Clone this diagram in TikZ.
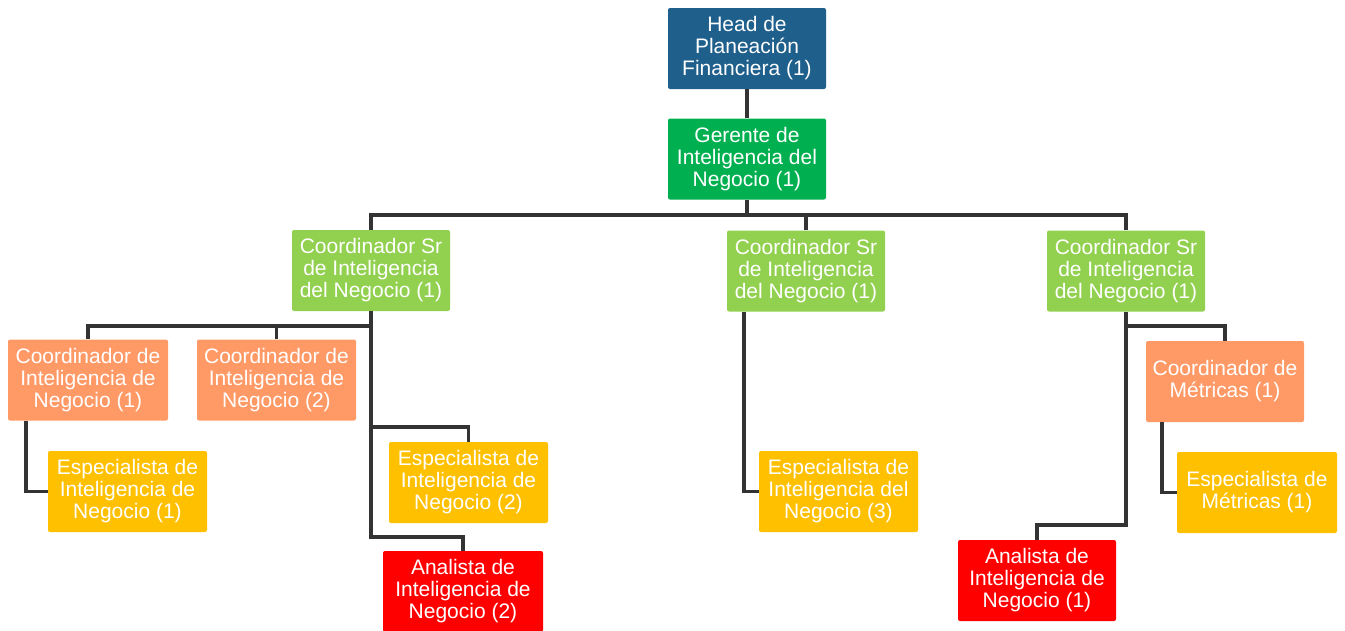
\documentclass[tikz,border=0pt]{standalone}
\usepackage{fontspec}
\setmainfont{Liberation Sans}
\definecolor{cHead}{HTML}{1F5F8C}
\definecolor{cGer}{HTML}{00B050}
\definecolor{cSr}{HTML}{92D050}
\definecolor{cCoord}{HTML}{FF9966}
\definecolor{cEsp}{HTML}{FFC000}
\definecolor{cAna}{HTML}{FF0000}
\definecolor{cLine}{HTML}{333333}
\begin{document}
\begin{tikzpicture}[x=1pt,y=-1pt,
  box/.style={rectangle, rounded corners=2pt, inner sep=0pt, text=white, align=center,
    minimum width=158pt, minimum height=81pt, font=\fontsize{21}{22}\selectfont},
  conn/.style={draw=cLine, line width=3.6pt, line join=miter}]
\useasboundingbox (0,0) rectangle (1345,630);
% nodes
\node[box, fill=cHead] (head) at (747,48.5) {Head de\\Planeación\\Financiera (1)};
\node[box, fill=cGer] (ger) at (747,159) {Gerente de\\Inteligencia del\\Negocio (1)};
\node[box, fill=cSr] (srL) at (371,270.5) {Coordinador Sr\\de Inteligencia\\del Negocio (1)};
\node[box, fill=cSr] (srM) at (806,271) {Coordinador Sr\\de Inteligencia\\del Negocio (1)};
\node[box, fill=cSr] (srR) at (1126,271) {Coordinador Sr\\de Inteligencia\\del Negocio (1)};
\node[box, fill=cCoord, minimum width=160pt] (c1) at (88,380) {Coordinador de\\Inteligencia de\\Negocio (1)};
\node[box, fill=cCoord, minimum width=159pt] (c2) at (276.5,380) {Coordinador de\\Inteligencia de\\Negocio (2)};
\node[box, fill=cEsp, minimum width=159pt] (e1) at (127.5,491.5) {Especialista de\\Inteligencia de\\Negocio (1)};
\node[box, fill=cEsp, minimum width=159pt] (e2) at (468.5,482.5) {Especialista de\\Inteligencia de\\Negocio (2)};
\node[box, fill=cAna, minimum width=160pt] (a2) at (463,591.5) {Analista de\\Inteligencia de\\Negocio (2)};
\node[box, fill=cEsp, minimum width=159pt] (e3) at (838.5,491.5) {Especialista de\\Inteligencia del\\Negocio (3)};
\node[box, fill=cCoord] (cm) at (1225,381.5) {Coordinador de\\Métricas (1)};
\node[box, fill=cEsp, minimum width=160pt] (em) at (1257,492.5) {Especialista de\\Métricas (1)};
\node[box, fill=cAna] (a1) at (1037,580.5) {Analista de\\Inteligencia de\\Negocio (1)};
% bus coordinates
\coordinate (busA) at (0,215);
\coordinate (busB) at (0,326);
\coordinate (brE2) at (0,427);
\coordinate (brA2) at (0,537);
\coordinate (brA1) at (0,525);
% connectors
\draw[conn] (head.south) -- (ger.north);
\draw[conn] (ger.south) -- (ger.south |- busA);
\draw[conn] (srL.north) -- (srL.north |- busA) -- (srR.north |- busA) -- (srR.north);
\draw[conn] (srM.north) -- (srM.north |- busA);
% left branch
\draw[conn] (c1.north) -- (c1.north |- busB) -- (srL.south |- busB);
\draw[conn] (c2.north) -- (c2.north |- busB);
\draw[conn] (srL.south) -- (srL.south |- brA2) -- (a2.north |- brA2) -- (a2.north);
\draw[conn] (srL.south |- brE2) -- (e2.north |- brE2) -- (e2.north);
\draw[conn] ([xshift=18pt]c1.south west) |- (e1.west);
% middle branch
\draw[conn] ([xshift=17pt]srM.south west) |- (e3.west);
% right branch
\draw[conn] (srR.south) -- (srR.south |- busB) -- (cm.north |- busB) -- (cm.north);
\draw[conn] (srR.south |- busB) -- (srR.south |- brA1) -- (a1.north |- brA1) -- (a1.north);
\draw[conn] ([xshift=16pt]cm.south west) |- (em.west);
\end{tikzpicture}
\end{document}
